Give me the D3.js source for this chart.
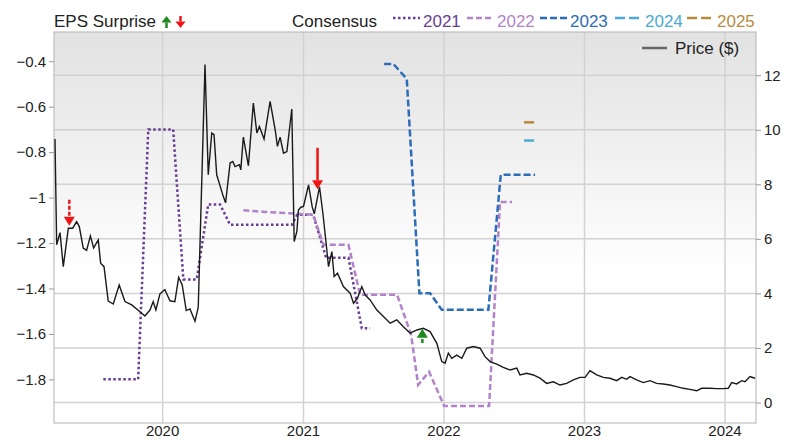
<!DOCTYPE html>
<html>
<head>
<meta charset="utf-8">
<script src="https://cdn.jsdelivr.net/npm/d3@7"></script>
<style>
  body { margin: 0; background: #fff; }
  svg text { font-family: "Liberation Sans", Arial, sans-serif; }
</style>
</head>
<body>
<script>
// EPS consensus vs price chart

// price ($), right axis. dates as decimal years
var priceYears = [2019.234, 2019.246, 2019.270, 2019.293, 2019.329, 2019.360, 2019.388, 2019.407, 2019.435, 2019.459,
  2019.486, 2019.509, 2019.542, 2019.559, 2019.583, 2019.613, 2019.649, 2019.691, 2019.732, 2019.780,
  2019.839, 2019.874, 2019.910, 2019.933, 2019.952, 2019.981, 2020.016, 2020.052, 2020.087, 2020.114,
  2020.139, 2020.168, 2020.194, 2020.230, 2020.253, 2020.301, 2020.324, 2020.349, 2020.365, 2020.384,
  2020.431, 2020.447, 2020.479, 2020.498, 2020.514, 2020.545, 2020.555, 2020.573, 2020.609, 2020.644,
  2020.669, 2020.687, 2020.720, 2020.763, 2020.799, 2020.815, 2020.834, 2020.858, 2020.882, 2020.917,
  2020.934, 2020.953, 2020.964, 2020.981, 2021.000, 2021.036, 2021.062, 2021.077, 2021.114, 2021.138,
  2021.161, 2021.178, 2021.202, 2021.218, 2021.242, 2021.284, 2021.332, 2021.356, 2021.384, 2021.415,
  2021.439, 2021.474, 2021.522, 2021.569, 2021.617, 2021.664, 2021.711, 2021.759, 2021.807, 2021.853,
  2021.901, 2021.949, 2021.984, 2022.008, 2022.031, 2022.055, 2022.091, 2022.127, 2022.162, 2022.209,
  2022.257, 2022.292, 2022.328, 2022.375, 2022.422, 2022.470, 2022.518, 2022.541, 2022.589, 2022.636,
  2022.683, 2022.731, 2022.778, 2022.826, 2022.873, 2022.920, 2022.968, 2023.004, 2023.039, 2023.087,
  2023.134, 2023.181, 2023.229, 2023.265, 2023.300, 2023.324, 2023.371, 2023.418, 2023.466, 2023.513,
  2023.560, 2023.608, 2023.655, 2023.703, 2023.750, 2023.798, 2023.834, 2023.893, 2023.940, 2023.987,
  2024.023, 2024.047, 2024.083, 2024.118, 2024.142, 2024.177, 2024.213];
var priceValues = [9.66, 5.78, 6.23, 4.98, 6.39, 6.39, 6.63, 6.45, 5.66, 5.58,
  6.11, 5.67, 5.96, 5.11, 4.98, 3.72, 3.61, 4.31, 3.70, 3.58,
  3.33, 3.17, 3.39, 3.70, 3.39, 3.98, 4.14, 3.73, 3.70, 4.59,
  4.31, 3.37, 3.43, 2.98, 3.50, 12.39, 8.35, 9.88, 9.82, 8.35,
  7.55, 7.32, 8.78, 8.84, 8.65, 8.72, 8.53, 9.73, 8.68, 10.98,
  9.88, 10.12, 9.66, 11.04, 10.0, 9.39, 9.73, 9.14, 9.20, 10.76,
  5.90, 6.27, 7.06, 7.16, 7.19, 7.98, 7.17, 6.92, 7.91, 6.94,
  5.84, 4.98, 5.53, 4.62, 4.74, 4.25, 4.01, 3.64, 3.82, 4.25,
  3.94, 3.76, 3.39, 3.15, 2.91, 3.03, 2.78, 2.54, 2.66, 2.72,
  2.60, 2.17, 1.50, 1.44, 1.81, 1.62, 1.74, 1.62, 1.99, 2.05,
  1.99, 1.68, 1.50, 1.41, 1.29, 1.19, 1.26, 1.01, 1.07, 1.01,
  0.89, 0.70, 0.76, 0.64, 0.70, 0.83, 0.92, 0.92, 1.17, 1.01,
  0.92, 0.89, 0.80, 0.92, 0.85, 0.95, 0.83, 0.73, 0.80, 0.70,
  0.68, 0.64, 0.58, 0.52, 0.48, 0.43, 0.52, 0.52, 0.51, 0.51,
  0.52, 0.73, 0.68, 0.80, 0.76, 0.95, 0.89];

// consensus EPS by fiscal year, left axis
var cons2021Years = [2019.578, 2019.826, 2019.898, 2020.075, 2020.147, 2020.242, 2020.324, 2020.408,
  2020.479, 2020.917, 2020.955, 2021.069, 2021.161, 2021.320, 2021.415, 2021.474];
var cons2021Values = [-1.80, -1.80, -0.70, -0.70, -1.36, -1.36, -1.03, -1.03,
  -1.12, -1.12, -1.076, -1.076, -1.265, -1.265, -1.575, -1.575];
var cons2022Years = [2020.573, 2020.728, 2020.905, 2021.069, 2021.142, 2021.320, 2021.403, 2021.666,
  2021.766, 2021.816, 2021.894, 2022.001, 2022.321, 2022.399, 2022.484];
var cons2022Values = [-1.056, -1.063, -1.069, -1.076, -1.208, -1.208, -1.428, -1.428,
  -1.604, -1.824, -1.767, -1.917, -1.917, -1.019, -1.019];
var cons2023Years = [2021.574, 2021.640, 2021.735, 2021.825, 2021.901, 2021.984, 2022.316, 2022.404, 2022.648];
var cons2023Values = [-0.412, -0.412, -0.478, -1.421, -1.421, -1.494, -1.494, -0.90, -0.90];
var cons2024Years = [2022.570, 2022.653];
var cons2024Values = [-0.749, -0.749];
var cons2025Years = [2022.570, 2022.653];
var cons2025Values = [-0.669, -0.669];
var consensusLabels = ['2021', '2022', '2023', '2024', '2025'];

// EPS surprises: arrow from / to, in price units
var surpriseYears = [2019.336, 2021.100, 2021.846];
var surpriseFrom = [7.43, 9.34, 2.18];
var surpriseTo = [6.48, 7.82, 2.70];

var leftTicks = [-1.8, -1.6, -1.4, -1.2, -1, -0.8, -0.6, -0.4];
var rightTicks = [0, 2, 4, 6, 8, 10, 12];
var yearTicks = [2020, 2021, 2022, 2023, 2024];

// styles
var consColors = ['#6a3d94', '#b383c9', '#2c6cb8', '#4ba9d4', '#b78a3e'];
var consDash = ['2.5,2.5', '6,3', '7,3', '10,4', '10,4'];
var surpriseDashed = [true, false, true];

function toDate(yr) {
  var y = Math.floor(yr);
  var a = Date.UTC(y, 0, 1), b = Date.UTC(y + 1, 0, 1);
  return new Date(a + (yr - y) * (b - a));
}

var pLeft = 54, pRight = 756, pTop = 32, pBottom = 423;

var svg = d3.select('body')
  .append('svg')
  .attr('width', 790)
  .attr('height', 440);

var xScale = d3.scaleUtc()
  .domain([toDate(2019.227), toDate(2024.220)])
  .range([pLeft, pRight]);
var yEps = d3.scaleLinear().domain([-1.992, -0.2714]).range([pBottom, pTop]);
var yPrice = d3.scaleLinear().domain([-0.752, 13.585]).range([pBottom, pTop]);

// background gradient
var defs = svg.append('defs');
var grad = defs.append('linearGradient')
  .attr('id', 'bg')
  .attr('x1', 0).attr('y1', 0).attr('x2', 0).attr('y2', 1);
grad.append('stop').attr('offset', '0%').attr('stop-color', '#e2e2e2');
grad.append('stop').attr('offset', '62%').attr('stop-color', '#ffffff');
defs.append('clipPath')
  .attr('id', 'clip')
  .append('rect')
  .attr('x', pLeft).attr('y', pTop)
  .attr('width', pRight - pLeft).attr('height', pBottom - pTop);

svg.append('rect')
  .attr('x', pLeft).attr('y', pTop)
  .attr('width', pRight - pLeft).attr('height', pBottom - pTop)
  .attr('fill', 'url(#bg)');

// grid
svg.append('g')
  .selectAll('line')
  .data(rightTicks)
  .enter()
  .append('line')
  .attr('x1', pLeft).attr('x2', pRight)
  .attr('y1', function(d) { return yPrice(d); })
  .attr('y2', function(d) { return yPrice(d); })
  .attr('stroke', '#d2d2d2')
  .attr('stroke-width', 1.5);
svg.append('g')
  .selectAll('line')
  .data(yearTicks)
  .enter()
  .append('line')
  .attr('x1', function(d) { return xScale(toDate(d)); })
  .attr('x2', function(d) { return xScale(toDate(d)); })
  .attr('y1', pTop).attr('y2', pBottom)
  .attr('stroke', '#d2d2d2')
  .attr('stroke-width', 1.5);

// frame
svg.append('rect')
  .attr('x', pLeft).attr('y', pTop)
  .attr('width', pRight - pLeft).attr('height', pBottom - pTop)
  .attr('fill', 'none')
  .attr('stroke', '#b4b4b4')
  .attr('stroke-width', 1);

// axes
var leftAxis = d3.axisLeft(yEps).tickValues(leftTicks).tickSize(5).tickPadding(3).tickFormat(d3.format('~g'));
var gl = svg.append('g').attr('transform', 'translate(' + pLeft + ',0)').call(leftAxis);
var rightAxis = d3.axisRight(yPrice).tickValues(rightTicks).tickSize(5).tickPadding(3);
var gr = svg.append('g').attr('transform', 'translate(' + pRight + ',0)').call(rightAxis);
[gl, gr].forEach(function(g) {
  g.select('.domain').remove();
  g.selectAll('line').attr('stroke', '#999');
  g.selectAll('text').style('font-size', '15px').attr('fill', '#222');
});

svg.append('g')
  .selectAll('text')
  .data(yearTicks)
  .enter()
  .append('text')
  .attr('x', function(d) { return xScale(toDate(d)); })
  .attr('y', 436)
  .attr('text-anchor', 'middle')
  .style('font-size', '15px')
  .attr('fill', '#222')
  .text(function(d) { return d; });

// consensus lines
var plot = svg.append('g').attr('clip-path', 'url(#clip)');
var epsLine = d3.line()
  .x(function(d) { return xScale(toDate(d[0])); })
  .y(function(d) { return yEps(d[1]); });
var consYears = [cons2021Years, cons2022Years, cons2023Years, cons2024Years, cons2025Years];
var consValues = [cons2021Values, cons2022Values, cons2023Values, cons2024Values, cons2025Values];
consYears.forEach(function(years, i) {
  plot.append('path')
    .datum(d3.zip(years, consValues[i]))
    .attr('d', epsLine)
    .attr('fill', 'none')
    .attr('stroke', consColors[i])
    .attr('stroke-width', 2.5)
    .attr('stroke-dasharray', consDash[i]);
});

// price line
var priceLine = d3.line()
  .x(function(d) { return xScale(toDate(d[0])); })
  .y(function(d) { return yPrice(d[1]); });
plot.append('path')
  .datum(d3.zip(priceYears, priceValues))
  .attr('d', priceLine)
  .attr('fill', 'none')
  .attr('stroke', '#1a1a1a')
  .attr('stroke-width', 1.4);

// arrows
function arrow(g, x, y0, y1, color, dashed, head, half) {
  var dir = y1 > y0 ? 1 : -1;
  g.append('line')
    .attr('x1', x).attr('x2', x)
    .attr('y1', y0).attr('y2', y1 - dir * head)
    .attr('stroke', color)
    .attr('stroke-width', 2.5)
    .attr('stroke-dasharray', dashed ? '4,2' : null);
  g.append('path')
    .attr('d', 'M' + (x - half) + ',' + (y1 - dir * head) + 'L' + (x + half) + ',' + (y1 - dir * head) + 'L' + x + ',' + y1 + 'Z')
    .attr('fill', color);
}
surpriseYears.forEach(function(yr, i) {
  var color = surpriseTo[i] > surpriseFrom[i] ? '#1c8a1c' : '#f01515';
  arrow(svg, xScale(toDate(yr)), yPrice(surpriseFrom[i]), yPrice(surpriseTo[i]), color, surpriseDashed[i], 9, 5.5);
});

// legend
svg.append('text')
  .attr('x', 54).attr('y', 27)
  .style('font-size', '17px')
  .attr('fill', '#222')
  .text('EPS Surprise');
arrow(svg, 166.5, 28, 16, '#1c8a1c', false, 6.5, 5);
arrow(svg, 180.5, 16, 28, '#f01515', false, 6.5, 5);

svg.append('text')
  .attr('x', 292).attr('y', 27)
  .style('font-size', '17px')
  .attr('fill', '#222')
  .text('Consensus');
var legX = [393, 467, 540, 615, 687];
consensusLabels.forEach(function(label, i) {
  svg.append('line')
    .attr('x1', legX[i]).attr('x2', legX[i] + 27)
    .attr('y1', 18).attr('y2', 18)
    .attr('stroke', consColors[i])
    .attr('stroke-width', 2.5)
    .attr('stroke-dasharray', consDash[i]);
  svg.append('text')
    .attr('x', legX[i] + 30).attr('y', 27)
    .style('font-size', '17px')
    .attr('fill', consColors[i])
    .text(label);
});

svg.append('line')
  .attr('x1', 642).attr('x2', 667)
  .attr('y1', 48).attr('y2', 48)
  .attr('stroke', '#666')
  .attr('stroke-width', 2.5);
svg.append('text')
  .attr('x', 675).attr('y', 54)
  .style('font-size', '17px')
  .attr('fill', '#222')
  .text('Price ($)');
</script>
</body>
</html>
